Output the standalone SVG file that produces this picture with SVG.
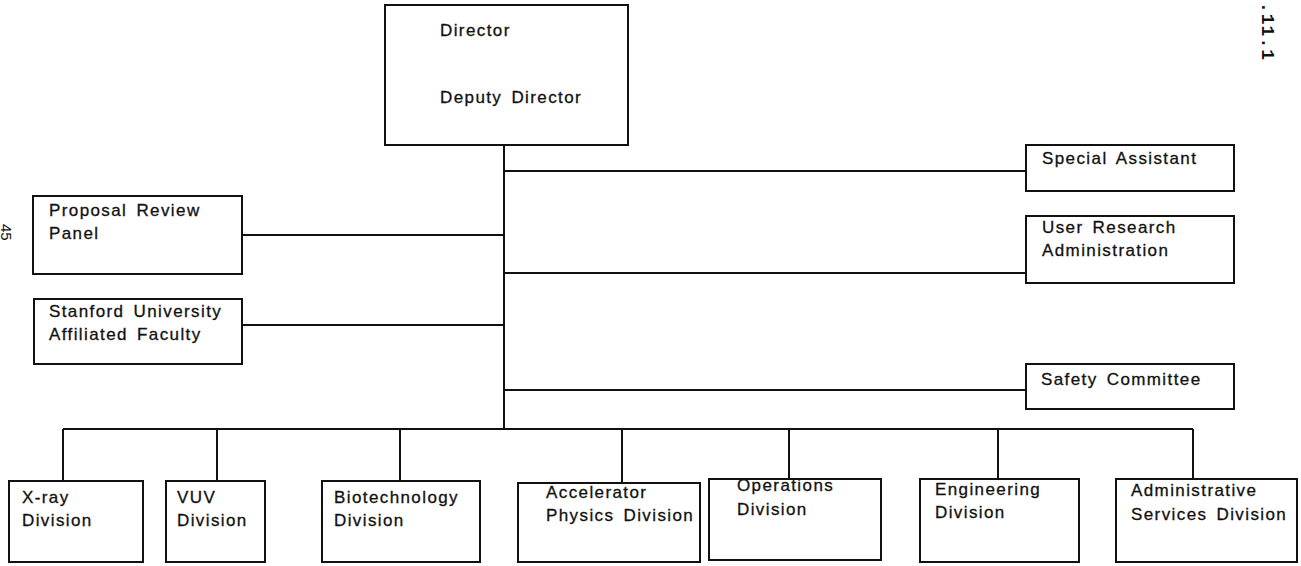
<svg xmlns="http://www.w3.org/2000/svg" width="1301" height="566" viewBox="0 0 1301 566">
  <style>
    .box { fill: #ffffff; stroke: #111111; stroke-width: 2; }
    .line { fill: none; stroke: #111111; stroke-width: 2; }
    .lbl { font-family: "Liberation Sans", Arial, sans-serif; font-size: 17px; fill: #111111; stroke: #111111; stroke-width: 0.3; letter-spacing: 1.4px; word-spacing: 3px; }
    .mark { font-family: "Liberation Sans", Arial, sans-serif; font-size: 15px; fill: #111111; }
    .mono { font-family: "Liberation Mono", "Courier New", monospace; font-size: 18px; font-weight: bold; fill: #111111; letter-spacing: 1px; }
  </style>
  <rect width="1301" height="566" fill="#ffffff"/>

  <!-- connectors -->
  <g id="connectors">
    <path class="line" d="M504 145 V429"/>
    <path class="line" d="M504 171 H1026"/>
    <path class="line" d="M504 273 H1026"/>
    <path class="line" d="M504 390 H1026"/>
    <path class="line" d="M242 235 H504"/>
    <path class="line" d="M242 325 H504"/>
    <path class="line" d="M63 429 H1193"/>
    <path class="line" d="M63 429 V481"/>
    <path class="line" d="M217 429 V481"/>
    <path class="line" d="M400 429 V481"/>
    <path class="line" d="M622 429 V483"/>
    <path class="line" d="M789 429 V479"/>
    <path class="line" d="M998 429 V479"/>
    <path class="line" d="M1193 429 V479"/>
  </g>

  <g id="director">
    <rect class="box" x="385" y="5" width="243" height="140"/>
    <text class="lbl" x="440" y="36">Director</text>
    <text class="lbl" x="440" y="103">Deputy Director</text>
  </g>

  <g id="special-assistant">
    <rect class="box" x="1026" y="145" width="208" height="46"/>
    <text class="lbl" x="1042" y="164">Special Assistant</text>
  </g>

  <g id="user-research">
    <rect class="box" x="1026" y="216" width="208" height="67"/>
    <text class="lbl" x="1042" y="233">User Research</text>
    <text class="lbl" x="1042" y="256">Administration</text>
  </g>

  <g id="safety-committee">
    <rect class="box" x="1026" y="364" width="208" height="45"/>
    <text class="lbl" x="1041" y="385">Safety Committee</text>
  </g>

  <g id="proposal-review">
    <rect class="box" x="33" y="196" width="209" height="78"/>
    <text class="lbl" x="49" y="216">Proposal Review</text>
    <text class="lbl" x="49" y="239">Panel</text>
  </g>

  <g id="stanford-faculty">
    <rect class="box" x="34" y="299" width="208" height="65"/>
    <text class="lbl" x="49" y="317">Stanford University</text>
    <text class="lbl" x="49" y="340">Affiliated Faculty</text>
  </g>

  <g id="xray">
    <rect class="box" x="9" y="481" width="134" height="81"/>
    <text class="lbl" x="22" y="503">X-ray</text>
    <text class="lbl" x="22" y="526">Division</text>
  </g>

  <g id="vuv">
    <rect class="box" x="166" y="481" width="99" height="81"/>
    <text class="lbl" x="177" y="503">VUV</text>
    <text class="lbl" x="177" y="526">Division</text>
  </g>

  <g id="biotechnology">
    <rect class="box" x="322" y="481" width="158" height="81"/>
    <text class="lbl" x="334" y="503">Biotechnology</text>
    <text class="lbl" x="334" y="526">Division</text>
  </g>

  <g id="accelerator">
    <rect class="box" x="518" y="483" width="182" height="79"/>
    <text class="lbl" x="546" y="498">Accelerator</text>
    <text class="lbl" x="546" y="521">Physics Division</text>
  </g>

  <g id="operations">
    <rect class="box" x="709" y="479" width="172" height="81"/>
    <text class="lbl" x="737" y="491">Operations</text>
    <text class="lbl" x="737" y="515">Division</text>
  </g>

  <g id="engineering">
    <rect class="box" x="920" y="479" width="159" height="83"/>
    <text class="lbl" x="935" y="495">Engineering</text>
    <text class="lbl" x="935" y="518">Division</text>
  </g>

  <g id="administrative">
    <rect class="box" x="1116" y="479" width="181" height="83"/>
    <text class="lbl" x="1131" y="496">Administrative</text>
    <text class="lbl" x="1131" y="520">Services Division</text>
  </g>

  <!-- page marks printed sideways -->
  <text class="mark" transform="translate(1 224) rotate(90)">45</text>
  <text class="mono" transform="translate(1262 2) rotate(90)">.11.1</text>
</svg>
